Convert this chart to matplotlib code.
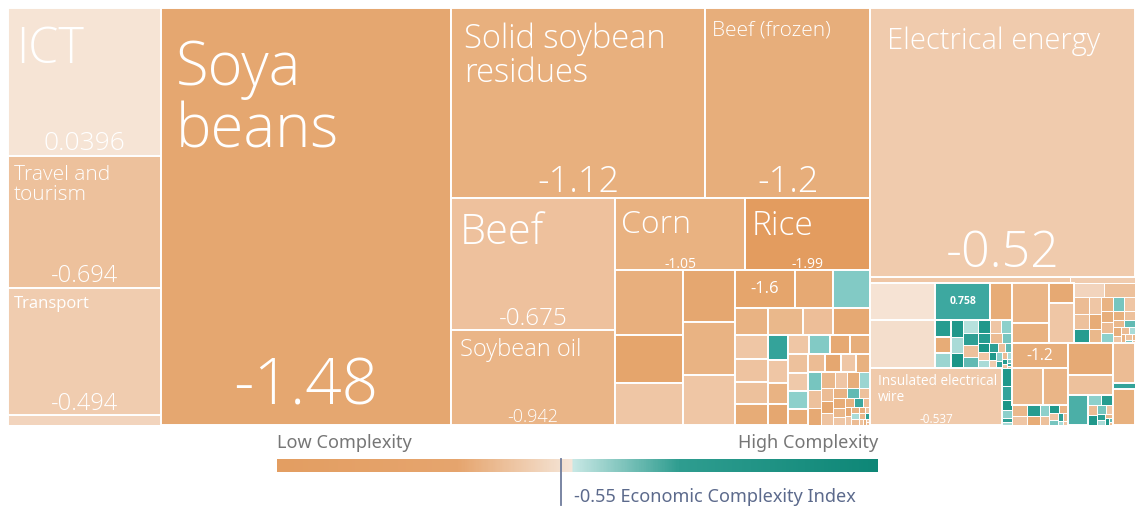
import matplotlib
matplotlib.use("Agg")
import matplotlib.pyplot as plt
from matplotlib.colors import LinearSegmentedColormap
from matplotlib.patches import Rectangle
import numpy as np

services_names = ["ICT", "Travel and tourism", "Transport", "Other services"]
services_values = [566, 505, 486, 38]
services_eci = [0.0396, -0.694, -0.494, -0.3]

soya_value = 3023
soya_eci = -1.48

soy_top_names = ["Solid soybean residues", "Beef (frozen)"]
soy_top_values = [1207, 784]
soy_top_eci = [-1.12, -1.2]

beef_names = ["Beef", "Soybean oil"]
beef_values = [541, 390]
beef_eci = [-0.675, -0.942]

grain_names = ["Corn", "Rice"]
grain_values = [234, 225]
grain_eci = [-1.05, -1.99]

energy_value = 1782
energy_eci = -0.52
wire_value = 188.1
wire_eci = -0.537

# unlabelled agricultural products next to corn / rice
agri_a_values = [110.5, 81.6, 71.4]
agri_a_eci = [-1.15, -1.6, -0.6]
agri_b_values = [67.6, 68.9, 65.0]
agri_b_eci = [-1.5, -1.0, -0.6]
agri_row1_values = [57, 36.1, 35.2]
agri_row1_eci = [-1.6, -1.4, 0.45]
agri_row2_values = [22.3, 23.6, 20.3, 25.0]
agri_row2_eci = [-1.0, -0.9, -0.75, -1.4]
agri_col_values = [19.8, 19.0, 18.2, 17.3]
agri_col_eci = [-0.6, -0.65, -0.7, -1.3]
agri_tiny_values = [12.8, 11.5, 10.6, 10.6, 9.9, 9.9, 9.5, 9.5, 9.4, 8.8, 8.5, 8.0,
                    7.6, 7.2, 6.8, 6.4, 6.2, 6.0, 5.6, 5.2, 4.9, 4.6, 4.3, 4.0,
                    3.7, 3.5, 3.4, 3.1, 2.9, 2.7, 2.5, 2.3, 2.1, 1.9, 1.7, 1.5,
                    1.4, 1.3, 1.2, 1.1, 1.0, 0.9, 0.8, 0.7, 0.6, 0.5, 0.4, 0.3]
agri_tiny_eci = [0.9, -0.6, -1.0, -1.5, -0.6, 0.45, -1.4, -1.2, -0.7, -0.55, 0.4, -1.3,
                 -0.8, -1.5, -0.6, -1.1, 0.5, -0.7, -1.4, -0.9, -0.6, -1.2, 0.35, -0.8,
                 -1.5, -0.65, -1.0, 0.6, -0.7, -1.3, -0.9, -0.6, -1.1, 0.8, -0.75, -1.4,
                 -0.6, -1.0, 0.3, -0.8, -1.2, -0.65, -0.9, 1.0, -0.7, -1.1, -0.6, -0.8]

# unlabelled products below electrical energy
strip_values = [30, 9.75]
strip_eci = [-0.6, -0.5]
pale_values = [60.1, 78.0]
pale_eci = [0.03, -0.1]
teal_row_values = [50.9, 20.3]
teal_row_eci = [0.758, -1.3]
teal_tiny_values = [6.5, 6.0, 5.8, 5.5, 5.0, 4.8, 4.5, 4.4, 4.2, 4.0, 3.8, 3.6, 3.4,
                    3.2, 3.0, 2.8, 2.6, 2.4, 2.2, 2.0, 1.8, 1.6, 1.5, 1.4, 1.2, 1.0,
                    0.9, 0.8, 0.7, 0.6, 0.5, 0.4, 0.3]
teal_tiny_eci = [1.1, -1.3, 0.35, 1.2, 0.3, 1.3, 0.25, 1.0, -0.7, 0.6, 1.2, -0.6, 0.4,
                 1.1, -0.8, 0.5, 1.3, -0.6, 0.3, 1.0, -0.7, 0.6, 1.2, -0.5, 0.4, 0.9,
                 -0.8, 0.3, 1.1, -0.6, 0.5, 0.8, -0.7]
wire_strip_values = [4.5, 3.5, 2.5, 2.0, 1.0, 0.75]
wire_strip_eci = [1.2, 0.9, 1.3, 0.4, 1.0, 0.3]

mach_a_values = [37, 18.5]
mach_a_eci = [-0.95, -1.05]
mach_b_values = [12.5, 25]
mach_b_eci = [-1.4, -0.6]
mach_c_values = [10.5, 10.85]
mach_c_eci = [-0.3, -0.7]
mach_tiny_values = [6.0, 5.6, 5.2, 5.0, 4.6, 4.4, 4.0, 3.8, 3.6, 3.4, 3.2, 3.0, 2.6,
                    2.4, 2.2, 2.0, 1.8, 1.6, 1.4, 1.2, 1.0, 0.8, 0.6, 0.45, 0.3]
mach_tiny_eci = [-0.8, -0.7, 1.1, -0.6, -1.3, -0.9, -1.0, 0.5, -0.6, -1.2, -0.8, 0.4,
                 -1.1, -0.7, -0.9, 0.6, -1.2, -0.6, -0.8, 0.3, -1.0, -0.7, 0.5, -0.9, -0.6]

misc_top_values = [34.4]
misc_top_eci = [-1.2]
misc_pair_values = [27.75, 23.1]
misc_pair_eci = [-0.85, -0.95]
misc_tiny_values = [4.0, 3.5, 3.2, 2.8, 2.5, 2.2, 2.0, 1.8, 1.5, 1.2, 1.0, 0.8, 0.5, 0.5]
misc_tiny_eci = [-0.9, -0.6, 1.1, -1.3, 0.4, -0.7, 1.2, -1.0, -0.6, 0.5, 1.0, -0.8, 0.3, -0.6]
misc_b_values = [36, 22.5]
misc_b_eci = [-1.35, -0.7]
misc_teal_values = [15]
misc_teal_eci = [0.7]
misc_b_tiny_values = [3.2, 2.8, 2.5, 2.2, 1.9, 1.6, 1.3, 1.1, 0.9, 0.6, 0.4, 0.25]
misc_b_tiny_eci = [0.4, 1.1, -0.8, 1.2, 0.5, -0.6, 1.0, 0.3, -0.9, 1.2, 0.6, -0.7]
misc_c_values = [22, 3.3, 19.8]
misc_c_eci = [-0.8, 0.9, -1.1]

country_eci = -0.55
legend_lo, legend_hi = -2.5, 1.63


def leaf(name, value, eci, label="full"):
    return {"name": name, "value": value, "eci": eci, "label": label}


def leaves(names, values, ecis):
    return [leaf(n, v, e) for n, v, e in zip(names, values, ecis)]


def cells(values, ecis, show=()):
    return [leaf("", v, e, "value" if i in show else None)
            for i, (v, e) in enumerate(zip(values, ecis))]


def group(kind, kids):
    return {"kind": kind, "kids": kids}


def total(node):
    if "value" in node:
        return node["value"]
    return sum(total(k) for k in node["kids"])


def strip(sizes, x, y, w, h):
    s = sum(sizes)
    rects = []
    if w >= h:
        sw = s / h
        cy = y
        for v in sizes:
            rects.append((x, cy, sw, v / sw))
            cy += v / sw
    else:
        sh = s / w
        cx = x
        for v in sizes:
            rects.append((cx, y, v / sh, sh))
            cx += v / sh
    return rects


def leftover(sizes, x, y, w, h):
    s = sum(sizes)
    if w >= h:
        return x + s / h, y, w - s / h, h
    return x, y + s / w, w, h - s / w


def worst(sizes, x, y, w, h):
    return max(max(rw / rh, rh / rw) for _, _, rw, rh in strip(sizes, x, y, w, h))


def squarify(sizes, x, y, w, h):
    if not sizes:
        return []
    if len(sizes) == 1:
        return strip(sizes, x, y, w, h)
    i = 1
    while i < len(sizes) and worst(sizes[:i], x, y, w, h) >= worst(sizes[:i + 1], x, y, w, h):
        i += 1
    return strip(sizes[:i], x, y, w, h) + squarify(sizes[i:], *leftover(sizes[:i], x, y, w, h))


def place(node, x, y, w, h, out):
    if "value" in node:
        out.append((node, x, y, w, h))
        return
    kids = node["kids"]
    sizes = [total(k) for k in kids]
    s = sum(sizes)
    if node["kind"] == "h":
        cx = x
        for k, v in zip(kids, sizes):
            place(k, cx, y, w * v / s, h, out)
            cx += w * v / s
    elif node["kind"] == "v":
        cy = y
        for k, v in zip(kids, sizes):
            place(k, x, cy, w, h * v / s, out)
            cy += h * v / s
    else:
        scaled = [v * w * h / s for v in sizes]
        for k, r in zip(kids, squarify(scaled, x, y, w, h)):
            place(k, *r, out)


cluster_a = group("h", [
    group("v", cells(agri_a_values, agri_a_eci)),
    group("v", cells(agri_b_values, agri_b_eci)),
    group("v", [
        group("h", cells(agri_row1_values, agri_row1_eci, show=(0,))),
        group("h", cells(agri_row2_values, agri_row2_eci)),
        group("h", [group("v", cells(agri_col_values, agri_col_eci)),
                    group("sq", cells(agri_tiny_values, agri_tiny_eci))]),
    ]),
])

cluster_b = group("v", [
    group("h", cells(strip_values, strip_eci)),
    group("h", [
        group("v", [
            group("h", [
                group("v", cells(pale_values, pale_eci)),
                group("v", [group("h", cells(teal_row_values, teal_row_eci, show=(0,))),
                            group("sq", cells(teal_tiny_values, teal_tiny_eci))]),
            ]),
            group("h", [leaf("Insulated electrical wire", wire_value, wire_eci),
                        group("v", cells(wire_strip_values, wire_strip_eci))]),
        ]),
        group("v", [
            group("h", [
                group("v", cells(mach_a_values, mach_a_eci)),
                group("v", cells(mach_b_values, mach_b_eci)),
                group("v", [group("h", cells(mach_c_values, mach_c_eci)),
                            group("sq", cells(mach_tiny_values, mach_tiny_eci))]),
            ]),
            group("h", [
                group("v", cells(misc_top_values, misc_top_eci, show=(0,))
                      + [group("h", cells(misc_pair_values, misc_pair_eci)),
                         group("sq", cells(misc_tiny_values, misc_tiny_eci))]),
                group("v", cells(misc_b_values, misc_b_eci)
                      + [group("h", cells(misc_teal_values, misc_teal_eci)
                               + [group("sq", cells(misc_b_tiny_values, misc_b_tiny_eci))])]),
                group("v", cells(misc_c_values, misc_c_eci)),
            ]),
        ]),
    ]),
])

services_node = group("v", leaves(services_names, services_values, services_eci))
services_node["kids"][-1]["label"] = None
root = group("h", [
    services_node,
    leaf("Soya beans", soya_value, soya_eci),
    group("v", [
        group("h", leaves(soy_top_names, soy_top_values, soy_top_eci)),
        group("h", [
            group("v", leaves(beef_names, beef_values, beef_eci)),
            group("v", [group("h", leaves(grain_names, grain_values, grain_eci)), cluster_a]),
        ]),
    ]),
    group("v", [leaf("Electrical energy", energy_value, energy_eci), cluster_b]),
])

# colour scale
anchor_eci = [-2.2, -1.5, -1.0, -0.65, -0.5, 0.05, 0.15, 0.4, 0.76, 1.3, 2.0]
anchor_col = ["#E29858", "#E5A770", "#E9B383", "#EEC3A0", "#F0CCAF", "#F6E4D6",
              "#D3EDEA", "#8ED0CB", "#3DA8A0", "#1A9587", "#0E7F72"]
lo, hi = anchor_eci[0], anchor_eci[-1]
cmap = LinearSegmentedColormap.from_list(
    "eci", [((e - lo) / (hi - lo), c) for e, c in zip(anchor_eci, anchor_col)])


def eci_color(e):
    return cmap((min(max(e, lo), hi) - lo) / (hi - lo))


wrapped = {"Soya beans": "Soya\nbeans", "Solid soybean residues": "Solid soybean\nresidues",
           "Travel and tourism": "Travel and\ntourism",
           "Insulated electrical wire": "Insulated electrical\nwire"}
# name size, pad x, pad y, value size, pad bottom, linespacing
style = {
    "ICT": (35, 8, 17, 19, 6, 1.0),
    "Soya beans": (43, 15, 31, 46, 20, 1.0),
    "Solid soybean residues": (23.5, 13, 14, 26, 6, 1.05),
    "Beef (frozen)": (15, 7, 12, 26, 6, 1.0),
    "Beef": (30, 9, 13, 17.5, 5, 1.0),
    "Soybean oil": (17, 9, 8, 13, 3, 1.0),
    "Corn": (23, 6, 11, 10, 2, 1.0),
    "Rice": (24, 6, 11, 10, 2, 1.0),
    "Electrical energy": (21, 17, 18, 36, 10, 1.0),
    "Travel and tourism": (15, 6, 9, 17, 6, 1.0),
    "Transport": (12, 6, 8, 17, 5, 1.0),
    "Insulated electrical wire": (9.8, 8, 6, 8.5, 2, 1.05),
}
font = ["Open Sans", "DejaVu Sans"]

fig = plt.figure(figsize=(11.35, 5.07), dpi=100)
W, H = 1127, 417
ax = fig.add_axes([8 / 1135, 1 - 425 / 507, W / 1135, H / 507])
ax.set_xlim(0, W)
ax.set_ylim(H, 0)
ax.axis("off")

tiles = []
place(root, 0, 0, W, H, tiles)
for node, x, y, w, h in tiles:
    lw = 1.4 if min(w, h) >= 15 else 0.7
    ax.add_patch(Rectangle((x, y), w, h, facecolor=eci_color(node["eci"]),
                           edgecolor="white", linewidth=lw))
    val = f"{node['eci']:.3g}"
    if node["label"] == "full":
        ns, px, py, vs, pb, ls = style[node["name"]]
        ax.text(x + px, y + py, wrapped.get(node["name"], node["name"]),
                fontsize=ns, color="white", ha="left", va="top", family=font,
                fontweight="light" if ns > 12.5 else "normal", linespacing=ls)
        ax.text(x + w / 2, y + h - pb, val, fontsize=vs, color="white", ha="center",
                va="baseline", family=font, fontweight="light" if vs > 12.5 else "normal")
    elif node["label"] == "value":
        size = 7.5 if node["eci"] > 0 else min(12, h * 0.45)
        ax.text(x + w / 2, y + h / 2, val, fontsize=size, color="white", ha="center",
                va="center", family=font, fontweight="bold" if node["eci"] > 0 else "normal")

# legend
leg_cols = [(0.0, "#E39E62"), (0.3, "#E6A56E"), (0.46, "#F3DCC8"), (0.4925, "#F6E6DA"),
            (0.4926, "#C8E8E5"), (0.67, "#2F9D90"), (1.0, "#0E8777")]
leg_cmap = LinearSegmentedColormap.from_list("leg", leg_cols)
lax = fig.add_axes([277 / 1135, 1 - 472 / 507, 601 / 1135, 13 / 507])
lax.imshow(np.linspace(0, 1, 600)[None, :], aspect="auto", cmap=leg_cmap,
           extent=[legend_lo, legend_hi, 0, 1])
lax.set_xlim(legend_lo, legend_hi)
lax.axis("off")
lax.axvline(country_eci, ymin=-2.5, ymax=1.0, color="#6F7C9C", lw=1.3, clip_on=False)

leg_font = ["Noto Sans", "DejaVu Sans"]
fig.text(277 / 1135, 1 - 448 / 507, "Low Complexity", fontsize=13, color="#767676",
         ha="left", va="baseline", family=leg_font)
fig.text(878 / 1135, 1 - 448 / 507, "High Complexity", fontsize=13, color="#767676",
         ha="right", va="baseline", family=leg_font)
fig.text(574 / 1135, 1 - 502 / 507, f"{country_eci} Economic Complexity Index", fontsize=13,
         color="#5C6A8C", ha="left", va="baseline", family=leg_font)

fig.savefig("out.png", dpi=100, facecolor="white")
